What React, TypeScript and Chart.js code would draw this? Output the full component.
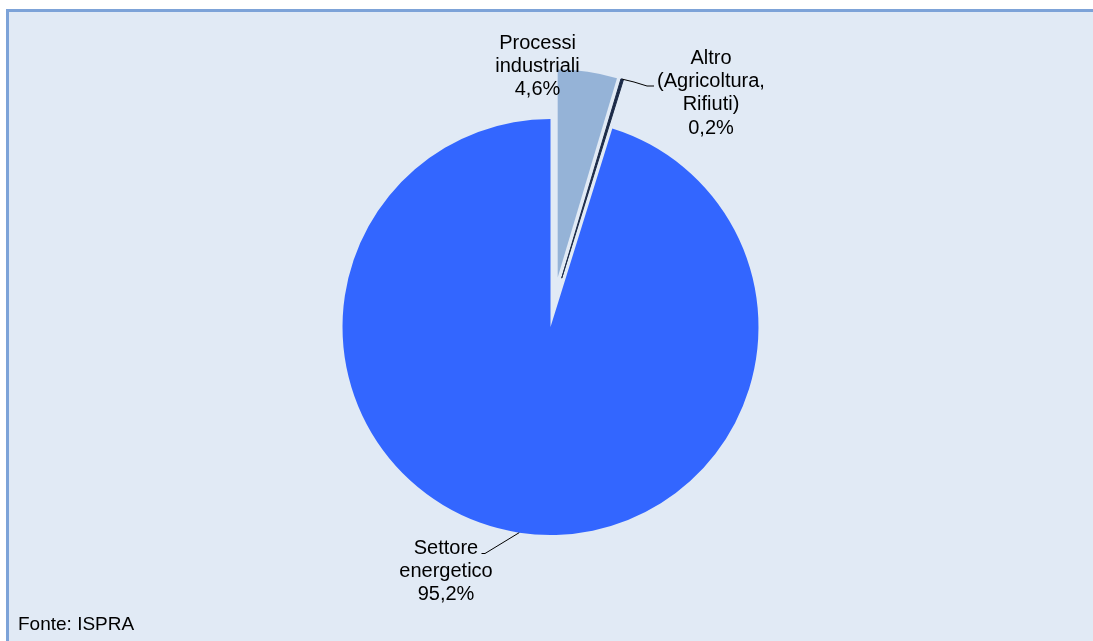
import React, { useEffect, useRef } from 'react';
import { Chart, registerables } from 'chart.js';

Chart.register(...registerables);

// ---- data ----
const categories = ['Processi industriali', 'Altro (Agricoltura, Rifiuti)', 'Settore energetico'];
const labelLines = [['Processi', 'industriali'], ['Altro', '(Agricoltura,', 'Rifiuti)'], ['Settore', 'energetico']];
const shares = [4.6, 0.2, 95.2];
const sourceNote = 'Fonte: ISPRA';

// ---- style ----
const COLORS = ['#95B3D7', '#1B2A47', '#3366FF'];
const BORDER_W = [0, 1, 0];
const EXPLODE = [50, 50, 0];
const TANGENT_SHIFT = [0, -3.5, 0];
const RADIUS = 208;
const LINE_H = 23.4;
const LABEL_FONT = '20px "Liberation Sans", Arial, sans-serif';
const NOTE_FONT = '19px "Liberation Sans", Arial, sans-serif';
const LABEL_POS = [
  { x: 537.5, y: 48.5 },
  { x: 711, y: 63.5 },
  { x: 446, y: 553.5 },
];
const LEADERS: (number[][] | null)[] = [
  null,
  [[634, 82], [647, 86], [654, 86]],
  [[485, 553.5], [481.5, 553.5]],
];
const BG = '#E1EAF5';
const FRAME = '#7DA3D8';

const fmt = (v: number) => v.toFixed(1).replace('.', ',') + '%';

const explodePlugin = {
  id: 'explodeSlices',
  afterDatasetsUpdate(chart: any) {
    const meta = chart.getDatasetMeta(0);
    meta.data.forEach((arc: any, i: number) => {
      const mid = (arc.startAngle + arc.endAngle) / 2;
      arc.x += Math.cos(mid) * EXPLODE[i] - Math.sin(mid) * TANGENT_SHIFT[i];
      arc.y += Math.sin(mid) * EXPLODE[i] + Math.cos(mid) * TANGENT_SHIFT[i];
    });
  },
};

const labelPlugin = {
  id: 'pieLabels',
  afterDatasetsDraw(chart: any) {
    const ctx = chart.ctx;
    const meta = chart.getDatasetMeta(0);
    ctx.save();
    ctx.fillStyle = '#000';
    ctx.strokeStyle = '#000';
    ctx.lineWidth = 1;
    ctx.font = LABEL_FONT;
    ctx.textAlign = 'center';
    ctx.textBaseline = 'alphabetic';
    meta.data.forEach((arc: any, i: number) => {
      const lines = [...labelLines[i], fmt(shares[i])];
      const pos = LABEL_POS[i];
      lines.forEach((t, k) => ctx.fillText(t, pos.x, pos.y + k * LINE_H));
      const leader = LEADERS[i];
      if (leader) {
        const mid = (arc.startAngle + arc.endAngle) / 2;
        ctx.beginPath();
        ctx.moveTo(arc.x + Math.cos(mid) * arc.outerRadius, arc.y + Math.sin(mid) * arc.outerRadius);
        leader.forEach(([x, y]) => ctx.lineTo(x, y));
        ctx.stroke();
      }
    });
    ctx.font = NOTE_FONT;
    ctx.textAlign = 'left';
    ctx.fillText(sourceNote, 18, 630);
    ctx.restore();
  },
};

export default function App() {
  const ref = useRef<HTMLCanvasElement | null>(null);

  useEffect(() => {
    if (!ref.current) return;
    const chart = new Chart(ref.current, {
      type: 'pie',
      data: {
        labels: categories,
        datasets: [
          {
            data: shares,
            backgroundColor: COLORS,
            borderColor: COLORS,
            borderWidth: BORDER_W,
            hoverOffset: 0,
          },
        ],
      },
      options: {
        responsive: false,
        animation: false,
        devicePixelRatio: 1,
        radius: RADIUS,
        rotation: 0,
        layout: { padding: { left: 8, right: 0, top: 13, bottom: 0 } },
        plugins: {
          legend: { display: false },
          tooltip: { enabled: false },
        },
        events: [],
      } as any,
      plugins: [explodePlugin, labelPlugin],
    });
    return () => chart.destroy();
  }, []);

  return (
    <div style={{ position: 'fixed', left: 0, top: 0, width: 1093, height: 641, overflow: 'hidden' }}>
      <div
        style={{
          position: 'absolute',
          left: 6,
          top: 9,
          width: 1200,
          height: 700,
          background: BG,
          borderLeft: `3px solid ${FRAME}`,
          borderTop: `3px solid ${FRAME}`,
          boxSizing: 'border-box',
        }}
      />
      <canvas
        ref={ref}
        width={1093}
        height={641}
        style={{ position: 'absolute', left: 0, top: 0, width: 1093, height: 641 }}
      />
    </div>
  );
}
